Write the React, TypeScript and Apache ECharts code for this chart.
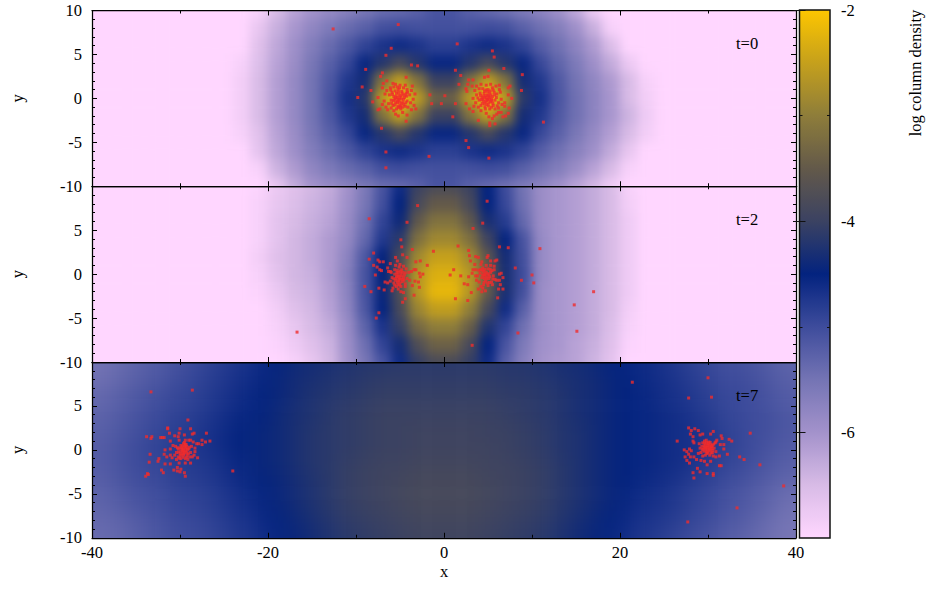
import React, { useEffect, useRef } from "react";
import * as echarts from "echarts";

const FONT = "'Liberation Serif', 'Times New Roman', serif";
const COLOR_STOPS = ["#ffd6ff", "#d8bbe6", "#a392cb", "#7474b4", "#3e4c9c", "#03237f", "#3b4262", "#63594a", "#8e7d3a", "#c5a01c", "#fdc600"];
const X_TICKS_MIN = -40;
const X_TICKS_MAX = 40;
const PANEL_LABELS = ["t=0", "t=2", "t=7"];

// log column density, rows y = 10, 8, ... -10; columns x = -27, -25, ... 27; outside these it is the floor value
const FLOOR = -7;
const densityT0 = [
  [-7,-7,-7,-6.9,-6.5,-6.2,-6,-5.85,-5.7,-5.55,-5.4,-5.35,-5.25,-5.1,-5.1,-5.25,-5.35,-5.45,-5.6,-5.75,-5.95,-6.25,-6.75,-7,-7,-7,-7,-7],
  [-7,-7,-7,-6.7,-6.35,-6.05,-5.8,-5.6,-5.4,-5.25,-5.05,-5,-5.05,-5.05,-5.05,-5.05,-5,-5.05,-5.25,-5.45,-5.65,-5.95,-6.35,-6.9,-7,-7,-7,-7],
  [-7,-7,-7,-6.6,-6.25,-5.95,-5.65,-5.4,-5.15,-4.9,-4.7,-4.6,-4.7,-4.85,-4.85,-4.7,-4.6,-4.7,-4.9,-5.2,-5.45,-5.75,-6.1,-6.55,-7,-7,-7,-7],
  [-7,-7,-6.9,-6.55,-6.2,-5.9,-5.55,-5.25,-4.95,-4.55,-4.2,-3.85,-4.2,-4.55,-4.55,-4.2,-3.85,-4.2,-4.55,-4.95,-5.3,-5.6,-5.95,-6.3,-6.75,-7,-7,-7],
  [-7,-7,-6.85,-6.5,-6.15,-5.85,-5.5,-5.15,-4.75,-4.35,-3.15,-2.55,-3.15,-4,-4,-3.15,-2.55,-3.15,-4.35,-4.75,-5.15,-5.5,-5.8,-6.1,-6.5,-6.9,-7,-7],
  [-7,-7,-6.85,-6.5,-6.15,-5.85,-5.5,-5.1,-4.65,-4.2,-2.6,-2,-2.6,-3.4,-3.4,-2.6,-2,-2.6,-4.15,-4.65,-5.1,-5.45,-5.75,-6.05,-6.5,-6.85,-7,-7],
  [-7,-7,-6.85,-6.5,-6.15,-5.85,-5.5,-5.15,-4.75,-4.35,-3.15,-2.55,-3.15,-4,-4,-3.15,-2.55,-3.15,-4.35,-4.75,-5.15,-5.45,-5.75,-6.05,-6.4,-6.8,-7,-7],
  [-7,-7,-6.9,-6.6,-6.2,-5.9,-5.55,-5.25,-4.95,-4.55,-4.2,-3.85,-4.2,-4.55,-4.55,-4.2,-3.85,-4.2,-4.55,-4.95,-5.25,-5.55,-5.85,-6.15,-6.5,-6.85,-7,-7],
  [-7,-7,-7,-6.65,-6.25,-5.95,-5.65,-5.4,-5.15,-4.9,-4.7,-4.6,-4.7,-4.85,-4.85,-4.7,-4.6,-4.7,-4.9,-5.2,-5.45,-5.7,-5.95,-6.3,-6.7,-7,-7,-7],
  [-7,-7,-7,-6.9,-6.4,-6.1,-5.8,-5.6,-5.4,-5.25,-5.05,-5,-5.05,-5.05,-5.05,-5.05,-5,-5.05,-5.25,-5.45,-5.65,-5.9,-6.2,-6.5,-6.9,-7,-7,-7],
  [-7,-7,-7,-7,-6.7,-6.3,-6,-5.85,-5.7,-5.55,-5.4,-5.35,-5.25,-5.1,-5.1,-5.25,-5.35,-5.45,-5.6,-5.75,-5.95,-6.2,-6.45,-6.8,-7,-7,-7,-7],
];
const densityT2 = [
  [-7,-7,-7,-6.95,-6.75,-6.6,-6.45,-6.3,-6,-5.6,-5.1,-4.6,-4,-3.8,-3.8,-4,-4.5,-5,-5.5,-5.9,-6.05,-6.15,-6.3,-6.5,-6.9,-7,-7,-7],
  [-7,-7,-7,-6.9,-6.7,-6.55,-6.4,-6.25,-5.95,-5.55,-5.05,-4.5,-3.85,-3.5,-3.5,-3.85,-4.5,-4.95,-5.45,-5.9,-6.05,-6.15,-6.3,-6.5,-6.85,-7,-7,-7],
  [-7,-7,-7,-6.9,-6.65,-6.5,-6.35,-6.2,-5.9,-5.45,-4.9,-4.4,-3.55,-3.15,-3.15,-3.55,-4.3,-4.8,-5.35,-5.9,-6.05,-6.15,-6.3,-6.5,-6.8,-7,-7,-7],
  [-7,-7,-7,-6.9,-6.65,-6.45,-6.3,-6.1,-5.85,-5.35,-4.75,-4.15,-3.2,-2.85,-2.85,-3.2,-3.95,-4.5,-5.1,-5.85,-6.05,-6.15,-6.3,-6.5,-6.8,-7,-7,-7],
  [-7,-7,-7,-6.85,-6.6,-6.45,-6.3,-6.1,-5.75,-5.15,-4.5,-3.85,-2.85,-2.5,-2.5,-2.85,-3.6,-4.35,-5.05,-5.85,-6.05,-6.15,-6.3,-6.5,-6.8,-7,-7,-7],
  [-7,-7,-7,-6.9,-6.65,-6.45,-6.35,-6.1,-5.7,-5.1,-4.5,-3.75,-2.65,-2.3,-2.3,-2.65,-3.45,-4.3,-5,-5.85,-6.05,-6.15,-6.3,-6.5,-6.8,-7,-7,-7],
  [-7,-7,-7,-6.95,-6.75,-6.5,-6.4,-6.15,-5.75,-5.1,-4.45,-3.75,-2.65,-2.2,-2.2,-2.65,-3.5,-4.3,-5.05,-5.9,-6.05,-6.15,-6.3,-6.5,-6.8,-7,-7,-7],
  [-7,-7,-7,-7,-6.85,-6.6,-6.45,-6.2,-5.8,-5.15,-4.5,-3.85,-2.9,-2.55,-2.55,-3,-3.85,-4.6,-5.25,-5.9,-6.05,-6.15,-6.3,-6.5,-6.85,-7,-7,-7],
  [-7,-7,-7,-7,-6.9,-6.7,-6.5,-6.3,-5.9,-5.3,-4.7,-4.05,-3.3,-3,-3,-3.45,-4.25,-4.9,-5.45,-5.9,-6.05,-6.15,-6.3,-6.55,-6.9,-7,-7,-7],
  [-7,-7,-7,-7,-6.95,-6.8,-6.6,-6.4,-5.95,-5.45,-4.9,-4.35,-3.75,-3.4,-3.4,-3.85,-4.5,-5.1,-5.6,-5.95,-6.05,-6.2,-6.35,-6.6,-6.95,-7,-7,-7],
  [-7,-7,-7,-7,-7,-6.9,-6.7,-6.45,-6,-5.55,-5.1,-4.6,-4.05,-3.8,-3.8,-4.05,-4.6,-5.25,-5.7,-6,-6.1,-6.2,-6.4,-6.65,-7,-7,-7,-7],
];
// columns x = -39, -37, ... 39
const densityT7 = [
  [-5.5,-5.4,-5.3,-5.2,-5.1,-5,-4.9,-4.8,-4.7,-4.6,-4.5,-4.4,-4.35,-4.3,-4.25,-4.2,-4.2,-4.15,-4.15,-4.15,-4.15,-4.15,-4.15,-4.2,-4.2,-4.25,-4.3,-4.35,-4.4,-4.5,-4.55,-4.6,-4.7,-4.8,-4.9,-5,-5.05,-5.1,-5.2,-5.3],
  [-5.45,-5.35,-5.25,-5.15,-5.05,-4.95,-4.85,-4.75,-4.65,-4.55,-4.45,-4.35,-4.3,-4.25,-4.2,-4.15,-4.1,-4.1,-4.1,-4.1,-4.1,-4.1,-4.1,-4.15,-4.15,-4.2,-4.25,-4.3,-4.35,-4.45,-4.5,-4.6,-4.65,-4.75,-4.85,-4.95,-5,-5.05,-5.15,-5.25],
  [-5.35,-5.25,-5.15,-5.05,-4.95,-4.9,-4.8,-4.7,-4.6,-4.5,-4.45,-4.35,-4.25,-4.2,-4.15,-4.1,-4.05,-4.05,-4.05,-4.05,-4.05,-4.05,-4.05,-4.1,-4.1,-4.15,-4.2,-4.3,-4.35,-4.45,-4.5,-4.55,-4.65,-4.7,-4.8,-4.9,-4.95,-5,-5.1,-5.2],
  [-5.3,-5.2,-5.1,-5,-4.9,-4.85,-4.75,-4.65,-4.55,-4.5,-4.4,-4.3,-4.25,-4.15,-4.1,-4.05,-4,-4,-4,-4,-4,-4,-4,-4.05,-4.1,-4.15,-4.2,-4.3,-4.35,-4.45,-4.5,-4.55,-4.6,-4.65,-4.75,-4.85,-4.95,-5,-5.05,-5.15],
  [-5.25,-5.15,-5.05,-4.95,-4.85,-4.8,-4.7,-4.6,-4.5,-4.45,-4.4,-4.3,-4.2,-4.15,-4.1,-4.05,-4,-4,-3.95,-3.95,-3.95,-3.95,-4,-4,-4.05,-4.1,-4.2,-4.25,-4.35,-4.45,-4.5,-4.55,-4.6,-4.65,-4.7,-4.8,-4.9,-5,-5.05,-5.15],
  [-5.2,-5.1,-5,-4.9,-4.8,-4.75,-4.7,-4.6,-4.5,-4.45,-4.4,-4.3,-4.2,-4.15,-4.1,-4.05,-4,-4,-3.95,-3.95,-3.95,-3.95,-3.95,-4,-4.05,-4.1,-4.2,-4.25,-4.35,-4.45,-4.5,-4.55,-4.6,-4.65,-4.7,-4.8,-4.9,-5,-5.1,-5.2],
  [-5.2,-5.1,-5,-4.95,-4.85,-4.8,-4.75,-4.65,-4.55,-4.45,-4.4,-4.3,-4.2,-4.15,-4.05,-4,-3.95,-3.95,-3.9,-3.9,-3.9,-3.9,-3.95,-3.95,-4,-4.05,-4.15,-4.25,-4.35,-4.45,-4.5,-4.55,-4.6,-4.65,-4.75,-4.85,-4.95,-5.05,-5.15,-5.25],
  [-5.25,-5.15,-5.05,-5,-4.9,-4.85,-4.8,-4.7,-4.6,-4.5,-4.45,-4.35,-4.25,-4.15,-4.05,-4,-3.95,-3.9,-3.85,-3.85,-3.85,-3.85,-3.9,-3.95,-4,-4.05,-4.15,-4.25,-4.35,-4.45,-4.5,-4.6,-4.65,-4.75,-4.85,-4.95,-5.05,-5.15,-5.25,-5.35],
  [-5.3,-5.2,-5.1,-5.05,-4.95,-4.9,-4.85,-4.75,-4.65,-4.55,-4.45,-4.35,-4.25,-4.15,-4.05,-4,-3.95,-3.9,-3.85,-3.85,-3.85,-3.85,-3.9,-3.95,-4,-4.05,-4.15,-4.25,-4.35,-4.45,-4.55,-4.65,-4.7,-4.8,-4.9,-5,-5.1,-5.2,-5.3,-5.45],
  [-5.35,-5.3,-5.2,-5.1,-5,-4.95,-4.9,-4.8,-4.7,-4.6,-4.5,-4.4,-4.3,-4.2,-4.1,-4.05,-4,-3.95,-3.9,-3.9,-3.9,-3.9,-3.95,-4,-4.05,-4.1,-4.2,-4.3,-4.4,-4.5,-4.6,-4.7,-4.75,-4.85,-4.95,-5.05,-5.15,-5.25,-5.4,-5.5],
  [-5.4,-5.35,-5.25,-5.15,-5.05,-5,-4.95,-4.85,-4.75,-4.65,-4.55,-4.45,-4.35,-4.25,-4.15,-4.1,-4.05,-4,-3.95,-3.95,-3.95,-3.95,-4,-4.05,-4.1,-4.15,-4.25,-4.35,-4.45,-4.55,-4.65,-4.75,-4.85,-4.95,-5.05,-5.15,-5.25,-5.35,-5.45,-5.55],
];

// particles (x, y)
const particlesT0 = [
  [-5.2,8.4],[-6,5.7],[-6.6,4.9],[-3.7,3.8],[-3,3.7],[-8.9,3.3],[-7,2.9],[-7.2,2.5],[-4.3,2.4],[-6.5,2],[-9.3,1.3],[-8.3,.9],[-6.9,1.7],[-7,1.2],[-9.8,.1],[-7.5,.1],[-8.1,-.4],[-1.6,.4],[-1.4,-.6],[.1,.3],[-.3,-.6],[-7,-.7],[-7.3,-1.2],[-7.5,-1.3],[-3.2,-1.2],[-5.7,-1.4],[-5.5,-1.8],[-5.2,-2],[-4.7,-1.6],[-4.2,-1.9],[-4.3,-2.6],[-7.1,-3.4],[-6.6,-6.1],[-1.7,-6.6],[-6.6,-7.9],[-12.6,7.9],
  [-5.1,-.2],[-5.3,.1],[-4.9,.3],[-4.7,-.4],[-5.5,-.5],[-5.7,.2],[-4.5,.1],[-5,-.8],[-5.4,.6],[-4.8,.8],[-6,-.2],[-4.2,-.3],[-5.8,-.8],[-4.4,-.9],[-6.2,.4],[-3.9,.4],[-5.2,1],[-4.6,1.2],[-5.7,1.3],[-6.3,-.6],[-3.8,-.5],[-4.9,-1.2],[-5.4,-1.2],[-6,-1.1],[-4.1,-1],[-6.5,.9],[-3.7,.9],[-5,1.5],[-5.5,1.6],[-4.4,1.5],[-6.1,1.2],[-3.6,1.4],[-6.8,-.3],[-3.5,-.1],[-6.6,-1],[-3.4,-.8],[-5.9,.7],[-4.3,.6],[-5.1,.4],[-4.6,-.1],[-5.6,-.1],[-5.3,-.5],[-4.8,-.6],[-5,.1],[-5.2,-.1],[-6.7,.5],[-5.8,1.7],[-4.2,1],[-6.4,-1.3],[-3.7,-1.3],[-3.3,.5],
  [-5.05,-.45],[-4.85,-.05],[-5.35,-.3],[-5.45,.3],[-4.65,.4],[-5.15,.7],[-4.95,-.95],[-5.6,-.75],[-4.55,-.7],[-5.85,.45],[-4.25,.25],[-5.25,-.9],[-4.75,.6],[-5.55,.85],[-5.95,-.55],[-4.35,-.5],[-4.15,.7],[-6.05,.95],[-5.05,1.2],[-5.3,1.3],[-4.7,-1],[-5.15,-1.05],[-5.75,-.25],[-4.4,.4],[-5.5,.05],
  [1.5,6.2],[5.5,5.4],[5.7,4.7],[1.3,3.2],[5.1,3.2],[6.8,3.4],[8.9,2.7],[1.9,2.6],[5,2.5],[4.6,2.4],[2.8,2.1],[3.3,2.1],[1.7,1.6],[2.7,1.6],[3.2,1.4],[2.5,1.1],[2.6,.8],[7.5,1.4],[7.3,1.2],[8.8,.9],[7.3,.4],[7.7,0],[6.9,-.5],[6.9,-.9],[7.4,-1.1],[6.6,-.7],[1.3,-.6],[2.5,-.6],[2.9,-1.2],[3.3,-1.5],[1,-2.1],[3.9,-2.5],[5.2,-2.8],[5.2,-3.1],[5.8,-2.9],[7.3,-1.7],[7,-2],[6.7,-2.1],[6.2,-1.6],[6.5,-1.6],[6,-1.8],[5.7,-2],[5.5,-2.3],[5.1,-2.1],[11.3,-2.7],[2.5,-4.8],[2.8,-5.6],[5.1,-6.8],
  [4.9,-.1],[5.1,.2],[4.7,.3],[4.5,-.3],[5.3,-.4],[5.5,.2],[4.3,.1],[4.9,-.7],[5.2,.6],[4.6,.8],[5.8,-.2],[4,-.2],[5.6,-.8],[4.2,-.8],[6,.5],[3.7,.4],[5,1],[4.4,1.1],[5.5,1.2],[6.2,-.5],[3.6,-.5],[4.7,-1.2],[5.2,-1.2],[5.8,-1.2],[3.9,-1],[6.3,1],[3.5,.9],[4.8,1.5],[5.3,1.6],[4.2,1.6],[5.9,1.4],[3.7,1.4],[6.5,-.1],[3.3,0],[6.2,-1.1],[3.4,-.9],[5.7,.7],[4.1,.6],[4.9,.4],[4.4,-.1],[5.4,-.1],[5.1,-.5],[4.6,-.6],[4.8,.1],[5,-.1],[6.4,.7],[6.3,1.5],[4,1.1],[4.2,-1.4],[4.8,-1.7],
  [4.75,-.4],[5.15,-.15],[4.55,.55],[5.35,.4],[4.95,.75],[5.05,-.85],[4.35,-.55],[5.55,-.55],[5.75,.4],[4.15,.35],[4.75,.95],[5.25,.85],[4.65,-.95],[5.4,-1],[3.85,.05],[5.95,.1],[4.45,.25],[5.6,.95],[4.25,-.15],[5.2,.1],[4.85,-.25],[5.05,.35],[4.6,.05],[5.45,-.25],[6.05,-.85],
];
const particlesT2 = [
  [-3,7.8],[-8.5,6.3],[-4.2,5.9],[-4.9,3.9],[-4.8,3.1],[-3.6,2.8],[-8,2.4],[-4.7,2.2],[-5.5,1.9],[-4.2,1.9],[-8.5,1.7],[-7.5,1.6],[-7.3,1.4],[-6.9,1.4],[-5.3,1.5],[-3.2,1.4],[-2.7,1.5],[-6.1,1.2],[-8,1],[-7.6,.8],[-6.4,.7],[-7.3,.5],[-7.1,.4],[-6.3,.3],[-6.1,.3],[-1.9,1],[-3.2,.5],[-3.4,.5],[-7.8,-.1],[-2.8,.1],[-2.4,0],[-2.7,-.3],[-3.3,-.8],[-2.9,-.9],[-6.7,-.9],[-6.4,-1],[-9,-1.4],[-7.4,-1.6],[-3.6,-1.3],[-2.8,-1.5],[-6.8,-1.8],[-8.3,-2],[-5.9,-1.9],[-5.8,-1.6],[-4.9,-2],[-4.6,-2.1],[-3.4,-2.4],[-4.4,-2.8],[-4.7,-3.2],[-7.4,-4.4],[-7.7,-5],[-1.2,2.6],[-16.7,-6.6],
  [-5.1,-.4],[-5.3,-.1],[-4.9,.1],[-4.7,-.6],[-5.5,-.7],[-5.6,0],[-4.5,-.1],[-5,-1],[-5.3,.4],[-4.8,.5],[-5.9,-.4],[-4.2,-.5],[-5.7,-1],[-4.4,-1.1],[-6,.2],[-4,.2],[-5.1,.8],[-4.6,.9],[-5.5,1],[-6.1,-.8],[-3.9,-.7],[-4.9,-1.4],[-5.4,-1.4],[-5.1,-.6],[-5.3,-.9],[-4.8,-.2],[-5.2,.2],[-5,-.2],[-5.4,-.3],[-4.6,-.4],[-4.3,.6],[-5,1.1],[-4.4,-1.4],[-5.2,-1.7],[-5.6,.5],[-3.7,.3],
  [-5.15,-.75],[-4.95,-.55],[-5.45,-.5],[-5.25,-1.15],[-5.05,-1.25],[-5.6,-1.25],[-4.75,-.85],[-4.55,-.7],[-5.2,-.25],[-4.7,.2],[-4.4,.15],[-5.7,-.55],[-5.35,.15],[-4.95,.35],
  [4.9,8.3],[4.4,5.8],[3.3,5.2],[1.6,3.2],[2.8,2.7],[6.3,3.1],[7.3,3],[10.9,2.9],[2.9,2.1],[3.6,2],[3.9,1.9],[3,1.5],[4.3,1.4],[5,2.1],[4.9,1.9],[5.3,1.5],[5.8,1.5],[6,1.6],[8.1,.7],[3.5,1.1],[1.1,.5],[.7,-.1],[1.9,-.2],[2.8,-.3],[3.3,.5],[3.2,.1],[3.6,-.2],[10,-.1],[8.8,-.7],[10.2,-1],[6.7,-.4],[6.5,.1],[6.3,0],[6.3,-.7],[6,-.7],[6.4,-1.2],[6.2,-1.7],[6.7,-1.7],[2.3,-1.1],[2.7,-1.2],[3.1,-2.1],[3.9,-1.7],[4.3,-2],[4.7,-1.9],[6.1,-2.7],[1.3,-2.8],[2.7,-3],[8.4,-6.7],[3.2,-8.1],[14.8,-3.5],[17,-2],[15.1,-6.5],
  [4.7,0],[4.9,-.3],[4.5,.3],[4.3,-.4],[5.1,-.5],[5.3,.2],[4.1,.1],[4.7,-.8],[5,.6],[4.4,.7],[5.6,-.2],[3.8,-.2],[5.4,-.9],[4,-.9],[5.7,.5],[3.6,.5],[4.8,1],[4.2,1.1],[5.3,1],[5.8,-.6],[3.7,-.7],[4.5,-1.2],[5,-1.3],[5.5,-1.2],[4.6,-.2],[4.8,.2],[4.2,-1.4],[4.4,-1.6],[5.7,.9],[5.1,-.1],[4.4,-.1],[4.6,-.5],
  [4.85,-.55],[4.55,-.05],[5,.05],[5.2,-.3],[4.35,.45],[4.95,-1],[5.15,-.95],[4.55,-.95],[5.45,.4],[5.25,.55],[4.15,.5],[4.65,.55],[3.95,.45],[5.55,-.55],
];
const particlesT7 = [
  [-33.3,6.6],[-28.6,6.8],[-29.1,3.4],[-31.4,2.5],[-31.4,2.4],[-28.8,2.4],[-30,2.4],[-31.2,1.9],[-30.1,1.9],[-27,1.9],[-29.5,1.7],[-28.4,1.9],[-28.6,1.8],[-33.8,1.5],[-33.2,1.5],[-33.3,1.3],[-32.2,1.4],[-32,1.4],[-31.8,1.4],[-30.6,1.6],[-30.2,1.5],[-31.1,1],[-27.5,1.1],[-26.6,1],[-27.1,.9],[-27.5,.6],[-27.9,.7],[-28.1,.7],[-28.5,.9],[-28.8,1.1],[-29,1.1],[-29.4,1.1],[-30.1,1.1],[-30.8,.5],[-31.1,.1],[-31.7,0],[-33.4,-.5],[-31.8,-.5],[-31.5,-.8],[-31.1,-.6],[-30.9,-.9],[-32.4,-1],[-32.5,-1.3],[-33.5,-1.4],[-31.7,-1.6],[-31.1,-1.6],[-30.1,-1.5],[-29.4,-1.5],[-28.8,-1.5],[-28,-.9],[-28.4,-.6],[-28.3,-.2],[-28.3,.2],[-32.1,-2.3],[-31.9,-2.6],[-33.7,-2.7],[-33.6,-2.8],[-33.9,-3],[-30.7,-2.3],[-30.3,-2.4],[-30.3,-2],[-29.9,-2.2],[-30,-2.5],[-29.5,-2.6],[-29.4,-3],[-24,-2.4],
  [-29.6,-.1],[-29.8,.2],[-29.4,.3],[-29.2,-.3],[-30,-.4],[-30.2,.1],[-29,.1],[-29.6,-.6],[-29.9,.5],[-29.3,.6],[-30.4,-.3],[-28.8,-.3],[-30.2,-.8],[-28.9,-.8],[-30.5,.4],[-28.7,.4],[-29.6,.7],[-30.6,-.6],[-28.6,-.8],[-29.4,-1],[-29.9,-1],[-29.5,-.3],[-29.7,-.2],[-29.3,.1],[-30,.2],[-29.1,-1.1],[-30.4,-1.1],[-29.6,.1],[-29.8,-.5],[-29.2,-.6],
  [-29.45,.45],[-29.7,.4],[-29.25,.4],[-29.15,.05],[-29.9,-.15],[-29.35,-.15],[-29.55,-.45],[-29.95,-.65],[-29.25,-.85],[-29.05,-.45],[-30.15,-.25],[-29.75,.05],[-30.3,.25],[-28.95,.3],[-29.5,.85],[-30.05,-.95],[-29.65,-.85],[-29.4,.65],
  [21.4,7.7],[30,8.2],[27.8,5.9],[30.4,6],[27.8,2.5],[28.1,2.2],[28.5,2.4],[28.9,2.2],[28,1.8],[28.3,1.5],[29.1,1.7],[29.4,1.8],[30.3,1.8],[30.6,2.1],[31.5,1.6],[31.6,1.3],[34.8,1.9],[26.5,1],[28.3,1],[28.4,.8],[32.4,1.2],[32.7,1],[31,1.1],[30.9,.9],[31.4,.6],[31.8,.6],[31.8,.1],[27.3,0],[27.6,-.2],[27.9,.1],[28.1,-.1],[27.8,-.5],[27.4,-.8],[28,-.8],[27.6,-1.2],[27.9,-1.5],[28.4,-.8],[28.7,-1.1],[29.2,-1.2],[29.6,-1.3],[29.9,-1.7],[30.3,-1.3],[30.9,-.8],[31.3,-.7],[32.2,-.5],[33.6,-.8],[34.1,-1.1],[35.9,-1.7],[31.3,-1.8],[31.5,-1.8],[28.8,-2.1],[29.1,-2.5],[28.3,-2.6],[28.4,-3.2],[29.9,-2.7],[30.6,-2.7],[30.6,-2.9],[38.6,-4.1],[33.3,-6.6],[27.7,-8.2],
  [29.9,.3],[30.1,.5],[29.7,.6],[29.5,.1],[30.3,0],[30.5,.5],[29.3,.4],[29.9,-.2],[30.1,.9],[29.6,1],[30.7,.2],[29.1,.2],[30.5,-.3],[29.2,-.3],[30.8,.8],[29,.7],[29.8,1.1],[30.9,-.2],[28.9,-.4],[29.7,-.6],[30.2,-.6],[30,.1],[29.8,.3],[30.2,.3],[29.6,.3],[29.4,-.7],[30.6,-.7],[30,.7],[29.8,-.1],[30.3,.6],[29.4,.8],
  [30.05,.75],[30.25,.85],[29.85,.85],[29.65,.75],[30.45,.15],[30.15,-.1],[29.55,-.15],[30.65,.65],[29.35,.05],[30,-.35],[30.35,-.35],[29.95,.5],[29.55,.45],[30.4,.35],[29.75,.15],[30.55,-.05],[29.85,-.4],[30.15,.15],
];

const PLOT = { left: 92, width: 704, height: 175.75, tops: [10.5, 186.25, 362] };
const UNIT = 8.8;
const CELL = 2 * UNIT;
const PAD_COLS = 2;
const PAD_ROWS = 1;
const BLUR = [5.5, 5.5, 10];

function fullRow(row: number[]) {
  if (row.length === 40) return row;
  const side = (40 - row.length) / 2;
  return [...Array(side).fill(FLOOR), ...row, ...Array(side).fill(FLOOR)];
}

function heatOption(rows: number[][]) {
  const full = rows.map(fullRow);
  const data: number[][] = [];
  const nr = full.length + 2 * PAD_ROWS;
  const nc = 40 + 2 * PAD_COLS;
  for (let r = 0; r < nr; r++) {
    const rowIdx = Math.min(full.length - 1, Math.max(0, r - PAD_ROWS));
    for (let c = 0; c < nc; c++) {
      const colIdx = Math.min(39, Math.max(0, c - PAD_COLS));
      data.push([c, nr - 1 - r, full[rowIdx][colIdx]]);
    }
  }
  return {
    animation: false,
    grid: { left: 0, right: 0, top: 0, bottom: 0 },
    xAxis: { type: "category", show: false, data: Array.from({ length: nc }, (_, i) => String(i)) },
    yAxis: { type: "category", show: false, data: Array.from({ length: nr }, (_, i) => String(i)) },
    visualMap: { show: false, min: -7, max: -2, dimension: 2, inRange: { color: COLOR_STOPS } },
    series: [{ type: "heatmap", data, itemStyle: { borderWidth: 0 }, emphasis: { disabled: true } }],
  };
}

function overlayOption() {
  const axisLine = { show: true, onZero: false, lineStyle: { color: "#000", width: 1.25 } };
  const grids: any[] = [];
  const xAxes: any[] = [];
  const yAxes: any[] = [];
  const series: any[] = [];
  const labelStyle = { fontFamily: FONT, fontSize: 16.5, color: "#000" };
  const all = [particlesT0, particlesT2, particlesT7];
  PLOT.tops.forEach((top, i) => {
    grids.push({ left: PLOT.left, top, width: PLOT.width, height: PLOT.height, show: false });
    const xBase = {
      type: "value", gridIndex: i, min: X_TICKS_MIN, max: X_TICKS_MAX, interval: 20, splitLine: { show: false }, axisLine,
      axisTick: { inside: true, length: 5, lineStyle: { color: "#000", width: 1 } },
      minorTick: { show: true, splitNumber: 2, length: 3, lineStyle: { color: "#000", width: 1 } },
    };
    xAxes.push({
      ...xBase, position: "bottom",
      axisLabel: { show: i === 2, margin: 6, ...labelStyle },
      ...(i === 2 ? { name: "x", nameLocation: "middle", nameGap: 25, nameTextStyle: labelStyle } : {}),
    });
    xAxes.push({ ...xBase, position: "top", axisLabel: { show: false } });
    const yBase = {
      type: "value", gridIndex: i, min: -10, max: 10, interval: 5, splitLine: { show: false }, axisLine,
      axisTick: { inside: true, length: 5, lineStyle: { color: "#000", width: 1 } },
      minorTick: { show: true, splitNumber: 5, length: 3, lineStyle: { color: "#000", width: 1 } },
    };
    yAxes.push({
      ...yBase, position: "left",
      axisLabel: { margin: 10, ...labelStyle, formatter: (v: number) => (i > 0 && v === 10 ? "" : String(v)) },
      name: "y", nameLocation: "middle", nameGap: 66, nameRotate: 90, nameTextStyle: labelStyle,
    });
    yAxes.push({ ...yBase, position: "right", axisLabel: { show: false } });
    series.push({
      type: "scatter", xAxisIndex: i * 2, yAxisIndex: i * 2, data: all[i], symbol: "rect", symbolSize: 3,
      itemStyle: { color: "#f02c2c" }, silent: true, z: 5,
    });
  });

  // colour bar axes
  grids.push({ left: 799.5, top: 10, width: 30.5, height: 528, show: true, z: 20, backgroundColor: "transparent", borderColor: "#111", borderWidth: 1.5 });
  xAxes.push({ type: "value", gridIndex: 3, min: 0, max: 1, show: false });
  const barLong = [-6, -4, -2];
  const barShort = [-5, -3];
  const barAxis = (position: string, values: number[], length: number, labels: boolean) => ({
    type: "value", gridIndex: 3, position, min: -7, max: -2, interval: 1, z: 20, splitLine: { show: false },
    axisLine: { show: false },
    axisTick: { show: true, inside: true, length, customValues: values, lineStyle: { color: "#111", width: 1 } },
    axisLabel: labels ? { show: true, margin: 11, customValues: values, ...labelStyle } : { show: false },
  });
  yAxes.push(barAxis("right", barLong, 6, true), barAxis("right", barShort, 3, false), barAxis("left", barLong, 6, false), barAxis("left", barShort, 3, false));

  const textStyle = (text: string) => ({ text, fontFamily: FONT, fontSize: 16.5, fill: "#000" });
  return {
    animation: false,
    backgroundColor: "transparent",
    grid: grids,
    xAxis: xAxes,
    yAxis: yAxes,
    series,
    visualMap: {
      show: true, seriesIndex: [], min: -7, max: -2, left: 799.5, top: 10, itemWidth: 30.5, itemHeight: 528, padding: 0,
      calculable: false, hoverLink: false, inRange: { color: COLOR_STOPS }, z: 1,
    },
    graphic: [
      ...PANEL_LABELS.map((t, i) => ({ type: "text", x: 736, y: PLOT.tops[i] + 33, style: { ...textStyle(t), textVerticalAlign: "middle" } })),
      { type: "text", x: 915, y: 73, rotation: Math.PI / 2, originX: 0, originY: 0, style: { ...textStyle("log column density"), textAlign: "center", textVerticalAlign: "middle" } },
    ],
  };
}

export default function App() {
  const bg0 = useRef<HTMLDivElement>(null);
  const bg1 = useRef<HTMLDivElement>(null);
  const bg2 = useRef<HTMLDivElement>(null);
  const top = useRef<HTMLDivElement>(null);
  useEffect(() => {
    const tables = [densityT0, densityT2, densityT7];
    const charts = [bg0, bg1, bg2].map((r, i) => {
      const c = echarts.init(r.current!, undefined, { renderer: "svg" });
      c.setOption(heatOption(tables[i]) as any);
      return c;
    });
    const overlay = echarts.init(top.current!, undefined, { renderer: "svg" });
    overlay.setOption(overlayOption() as any);
    return () => {
      charts.forEach((c) => c.dispose());
      overlay.dispose();
    };
  }, []);
  const innerW = (40 + 2 * PAD_COLS) * CELL;
  const innerH = (11 + 2 * PAD_ROWS) * CELL;
  return (
    <div style={{ position: "fixed", left: 0, top: 0, width: 926, height: 615, background: "#fff", overflow: "hidden" }}>
      {[bg0, bg1, bg2].map((r, i) => (
        <div key={i} style={{ position: "absolute", left: PLOT.left, top: PLOT.tops[i], width: PLOT.width, height: PLOT.height, overflow: "hidden" }}>
          <div
            ref={r}
            style={{
              position: "absolute",
              left: -PAD_COLS * CELL,
              top: (PLOT.height - innerH) / 2,
              width: innerW,
              height: innerH,
              filter: `blur(${BLUR[i]}px)`,
            }}
          />
        </div>
      ))}
      <div ref={top} style={{ position: "absolute", left: 0, top: 0, width: 926, height: 615 }} />
    </div>
  );
}
